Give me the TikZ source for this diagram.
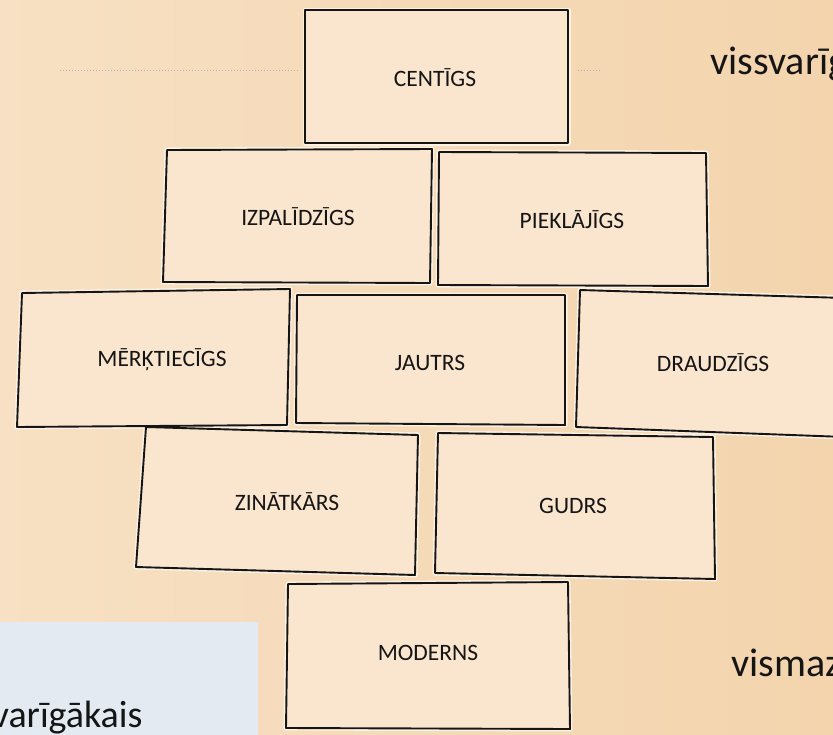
\documentclass[tikz,border=0pt]{standalone}
\usepackage{fontspec}
\setmainfont{Carlito}
\definecolor{board}{HTML}{F7E0C3}
\definecolor{boardr}{HTML}{F3D4AD}
\definecolor{cardfill}{HTML}{FAE6CE}
\definecolor{cardrim}{HTML}{FCF1E2}
\definecolor{slide}{HTML}{E3EAF1}
\definecolor{ink}{HTML}{151515}
\tikzset{
    card/.style={draw=ink,line width=1.9pt,fill=cardfill,line join=round},
    rim/.style={draw=cardrim,line width=5pt,line join=round},
    word/.style={font=\fontsize{23.5}{26}\selectfont,text=ink},
    side/.style={font=\fontsize{40}{46}\selectfont,text=ink}
}
% corners of each card (top left, top right, bottom right, bottom left), text centre, word
\def\cardlist{{305,10}/{568,10}/{568,143}/{305,143}/{435,78}/CENTĪGS,
    {167,150}/{432,149}/{430,283}/{163,282}/{298,217}/IZPALĪDZĪGS,
    {439,152}/{706,153}/{708,286}/{438,285}/{572,220}/PIEKLĀJĪGS,
    {22,293}/{290,289}/{287,425}/{17,427}/{162,360}/MĒRĶTIECĪGS,
    {297,295}/{565,295}/{565,425}/{296,423}/{430,363}/JAUTRS,
    {580,290}/{845,298}/{845,437}/{576,427}/{713,363}/DRAUDZĪGS,
    {146,427}/{418,435}/{415,575}/{136,567}/{287,502}/ZINĀTKĀRS,
    {438,433}/{713,437}/{715,579}/{435,573}/{573,506}/GUDRS,
    {288,584}/{568,582}/{570,729}/{286,728}/{428,653}/MODERNS}

\begin{document}
\begin{tikzpicture}[x=1pt,y=-1pt]
    \path[use as bounding box,clip] (0,0) rectangle (833,734);
    \shade[left color=board,right color=boardr] (0,0) rectangle (833,734);
    % faint pencil line across the board
    \draw[gray!60,dotted,line width=1pt] (60,70)--(300,70);
    \draw[gray!60,dotted,line width=1pt] (578,70)--(602,70);
    \foreach \tl/\tr/\br/\bl/\pos/\w in \cardlist{
        \draw[rim] (\tl)--(\tr)--(\br)--(\bl)--cycle;
    }
    \foreach \tl/\tr/\br/\bl/\pos/\w [count=\i] in \cardlist{
        \draw[card] (\tl)--(\tr)--(\br)--(\bl)--cycle;
        \node[word] (w\i) at (\pos) {\w};
    }
    \node[side,anchor=base west] (top) at (707,74) {vissvarīg};
    \node[side,anchor=base west] (low) at (728,676) {vismaz};
    \fill[slide] (0,622) rectangle (258,740);
    \node[side,anchor=base east,font=\fontsize{38}{44}\selectfont] (note) at (146,727) {varīgākais};
\end{tikzpicture}
\end{document}
